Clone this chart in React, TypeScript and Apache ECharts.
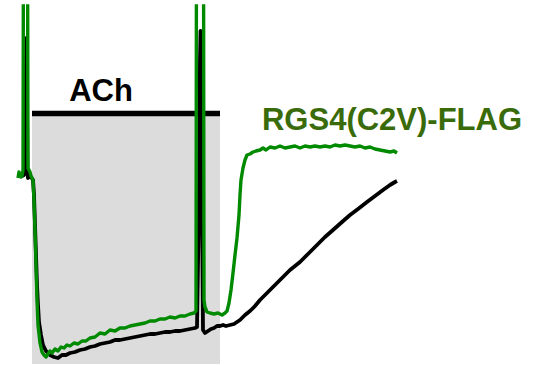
import React, { useEffect, useRef } from "react";
import * as echarts from "echarts";

// time (s) relative to ACh onset, current (pA) relative to baseline
const achPeriod = [0, 94];
const achLabel = "ACh";
const seriesLabel = "RGS4(C2V)-FLAG";

const greenTrace: [number, number][] = [
  [-7, -3], [-6.5, 3], [-6, -1], [-5.5, -2], [-5, -1], [-4.5, 5], [-4.25, 260],
  [-2.25, 260], [-2, 7], [-1.5, 5], [-1, 3], [-0.5, -1], [0.5, -5], [1, -25],
  [1.5, -55], [2, -90], [2.5, -125], [3, -150], [4, -168], [5, -177], [6, -180],
  [7, -182], [8, -179], [9, -176], [10, -178], [11.5, -174], [13, -176], [14.5, -172],
  [16, -173], [17.5, -170], [19, -171], [21, -168], [23, -169], [25, -166], [27, -166],
  [29, -163], [31.5, -162], [34, -158], [36.5, -159], [39, -155], [41.5, -156], [44, -153],
  [46.5, -153], [49, -151], [51.5, -150], [54, -149], [56.5, -148], [59, -146], [61.5, -146],
  [64, -144], [66.5, -144], [69, -142], [71.5, -143], [74, -141], [76.5, -141], [79, -139],
  [81, -138], [82, -136], [82.25, 260], [85.75, 260], [86, -125], [86.5, -132], [87.5, -137],
  [89, -138], [91, -139], [93, -138], [95, -140], [96.5, -138], [97.5, -136], [98.5, -128],
  [99.5, -115], [100.5, -98], [101.5, -80], [102.5, -63], [103.5, -40], [104, -20], [104.5, -5],
  [105.5, 7], [106.5, 15], [107.5, 20], [109, 21], [110.5, 23], [112, 24], [114, 25],
  [115.5, 27], [117, 25], [119, 28], [121.5, 27], [124, 29], [126.5, 27], [129, 28],
  [131.5, 29], [134, 27], [136.5, 29], [139, 28], [141.5, 29], [144, 28], [146.5, 29],
  [149, 28], [151.5, 30], [154, 29], [156.5, 30], [159, 29], [161.5, 28], [164, 29],
  [166.5, 27], [169, 28], [171.5, 26], [174, 25], [176.5, 24], [179, 23], [181, 24], [182.5, 22],
];

const blackTrace: [number, number][] = [
  [-6.5, -1], [-5, -1], [-4, 0], [-3.25, 75], [-2.75, 137], [-2.5, 75], [-2.25, 3],
  [-2, -3], [-1, 0], [-0.5, -2], [0.5, -5], [1, -20], [1.5, -50], [2, -80], [2.5, -110],
  [3, -130], [3.5, -147], [4.5, -160], [5.5, -170], [7, -176], [9, -180], [11, -182],
  [13, -183], [15, -180], [17, -180], [19, -178], [21.5, -177], [24, -175], [26.5, -174],
  [29, -172], [31.5, -171], [34, -169], [36.5, -168], [39, -167], [41.5, -165], [44, -165],
  [46.5, -164], [49, -163], [51.5, -162], [54, -161], [56.5, -160], [59, -159], [61.5, -159],
  [64, -158], [66.5, -157], [69, -157], [71.5, -156], [74, -156], [76.5, -155], [79, -154],
  [81.5, -153], [82.5, -152], [83.5, -25], [84, 115], [84.25, 144], [84.5, 125], [85, -25],
  [85.5, -155], [86.5, -158], [88, -156], [89.5, -154], [91, -153], [92.5, -151], [94, -151],
  [95.5, -150], [97, -151], [99, -150], [101, -149], [102.5, -147], [104, -145], [106.5, -140],
  [109, -136], [111.5, -131], [114, -125], [117.5, -118], [121.5, -110], [125.5, -102],
  [129, -95], [134, -87], [138, -79], [142.5, -70], [146.5, -62], [150.5, -55], [155, -47],
  [159, -40], [163, -34], [167.5, -27], [171.5, -21], [175.5, -15], [179, -10], [181.5, -7],
  [182.5, -6],
];

const barLevel = 61.6;
const shadeBottom = -189;
const xRange = [-16, 255.5];
const yRange = [-190, 169];

export default function App() {
  const ref = useRef<HTMLDivElement>(null);
  useEffect(() => {
    if (!ref.current) return;
    const chart = echarts.init(ref.current, null, { renderer: "svg" });
    chart.setOption({
      animation: false,
      backgroundColor: "#ffffff",
      grid: { left: 0, right: 0, top: 6, bottom: 0 },
      xAxis: { type: "value", min: xRange[0], max: xRange[1], show: false },
      yAxis: { type: "value", min: yRange[0], max: yRange[1], show: false },
      series: [
        {
          type: "line",
          data: [],
          markArea: {
            silent: true,
            itemStyle: { color: "#dcdcdc" },
            data: [[{ coord: [achPeriod[0], shadeBottom] }, { coord: [achPeriod[1], barLevel] }]],
          },
        },
        {
          type: "line",
          data: [[achPeriod[0], barLevel], [achPeriod[1], barLevel]],
          showSymbol: false,
          lineStyle: { color: "#000000", width: 5.5, cap: "butt" },
          z: 3,
        },
        {
          type: "line",
          data: blackTrace,
          showSymbol: false,
          lineStyle: { color: "#000000", width: 3.8, join: "round" },
          z: 4,
        },
        {
          type: "line",
          data: greenTrace,
          showSymbol: false,
          lineStyle: { color: "#008a00", width: 3.4, join: "round" },
          z: 5,
        },
      ],
      graphic: [
        {
          type: "text",
          x: 101,
          y: 90,
          style: {
            text: achLabel,
            font: "bold 31px 'Liberation Sans', Arial, sans-serif",
            fill: "#000000",
            align: "center",
            verticalAlign: "middle",
          },
        },
        {
          type: "text",
          x: 392,
          y: 119,
          style: {
            text: seriesLabel,
            font: "bold 31px 'Liberation Sans', Arial, sans-serif",
            fill: "#3a6b0a",
            align: "center",
            verticalAlign: "middle",
          },
        },
      ],
    });
    return () => chart.dispose();
  }, []);
  return (
    <div
      ref={ref}
      style={{ position: "fixed", left: 0, top: 0, width: 543, height: 365 }}
    />
  );
}
